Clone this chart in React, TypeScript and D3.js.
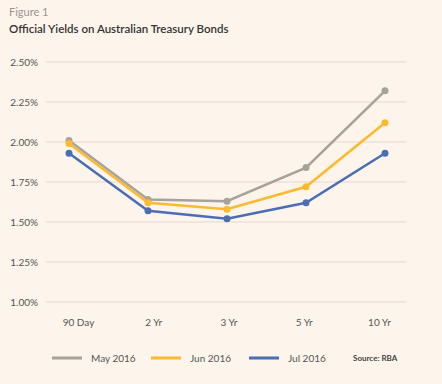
import React, { useRef, useEffect } from "react";
import * as d3 from "d3";

const categories = ["90 Day", "2 Yr", "3 Yr", "5 Yr", "10 Yr"];
const may2016 = [2.01, 1.64, 1.63, 1.84, 2.32];
const jun2016 = [1.99, 1.62, 1.58, 1.72, 2.12];
const jul2016 = [1.93, 1.57, 1.52, 1.62, 1.93];
const yTicks = [1.0, 1.25, 1.5, 1.75, 2.0, 2.25, 2.5];
const seriesNames = ["May 2016", "Jun 2016", "Jul 2016"];
const seriesColors = ["#a6a29c", "#fdb92f", "#4b6db4"];

const W = 442;
const H = 384;
const font = "Lato, 'Open Sans', sans-serif";

const App = () => {
  const svgRef = useRef<SVGSVGElement>(null);

  useEffect(() => {
    const svg = d3.select(svgRef.current);
    svg.selectAll("*").remove();

    svg.append("rect").attr("width", W).attr("height", H).attr("fill", "#fdf4eb");

    svg.append("text").attr("x", 9).attr("y", 16).text("Figure 1")
      .attr("font-family", font).attr("font-size", 11).attr("fill", "#9a9590");
    svg.append("text").attr("x", 9).attr("y", 33).text("Official Yields on Australian Treasury Bonds")
      .attr("font-family", font).attr("font-size", 11.5).attr("font-weight", 600).attr("fill", "#333");

    const x = d3.scalePoint().domain(categories).range([69, 385]);
    // tick labels sit on their own slightly narrower spacing in the original
    const xLabels = d3.scalePoint().domain(categories).range([78, 379]);
    const y = d3.scaleLinear().domain([1.0, 2.5]).range([302, 62]);

    const grid = svg.append("g");
    grid.selectAll("line").data(yTicks).join("line")
      .attr("x1", 46).attr("x2", 406)
      .attr("y1", (d) => y(d)).attr("y2", (d) => y(d))
      .attr("stroke", "#ebe2d8").attr("stroke-width", 1.5);

    const yAxis = d3.axisLeft(y).tickValues(yTicks).tickSize(0).tickPadding(0)
      .tickFormat((d) => d3.format(".2f")(d as number) + "%");
    const ya = svg.append("g").attr("transform", "translate(38,0)").call(yAxis);
    ya.select(".domain").remove();
    ya.selectAll("text").attr("font-family", font).attr("font-size", 10).attr("fill", "#555").attr("dy", "0.35em");

    const xAxis = d3.axisBottom(xLabels).tickSize(0).tickPadding(0);
    const xa = svg.append("g").attr("transform", "translate(0,319)").call(xAxis);
    xa.select(".domain").remove();
    xa.selectAll("text").attr("font-family", font).attr("font-size", 10).attr("fill", "#555");

    const all = [may2016, jun2016, jul2016];
    const lineGen = d3.line<number>()
      .x((_, i) => x(categories[i]) as number)
      .y((d) => y(d));

    all.forEach((vals, si) => {
      const g = svg.append("g");
      g.append("path").attr("d", lineGen(vals)).attr("fill", "none")
        .attr("stroke", seriesColors[si]).attr("stroke-width", 2.5);
      g.selectAll("circle").data(vals).join("circle")
        .attr("cx", (_, i) => x(categories[i]) as number)
        .attr("cy", (d) => y(d)).attr("r", 3.5).attr("fill", seriesColors[si]);
    });

    const legendX = [52, 151, 249];
    const legend = svg.append("g");
    seriesNames.forEach((name, i) => {
      legend.append("line").attr("x1", legendX[i]).attr("x2", legendX[i] + 30)
        .attr("y1", 358).attr("y2", 358).attr("stroke", seriesColors[i]).attr("stroke-width", 3);
      legend.append("text").attr("x", legendX[i] + 39).attr("y", 361.5).text(name)
        .attr("font-family", font).attr("font-size", 10).attr("fill", "#555");
    });
    legend.append("text").attr("x", 353).attr("y", 361).text("Source: RBA")
      .attr("font-family", font).attr("font-size", 8).attr("font-weight", 700).attr("fill", "#444");
  }, []);

  return (
    <svg ref={svgRef} width={W} height={H} style={{ position: "absolute", left: 0, top: 0 }} />
  );
};

export default App;
